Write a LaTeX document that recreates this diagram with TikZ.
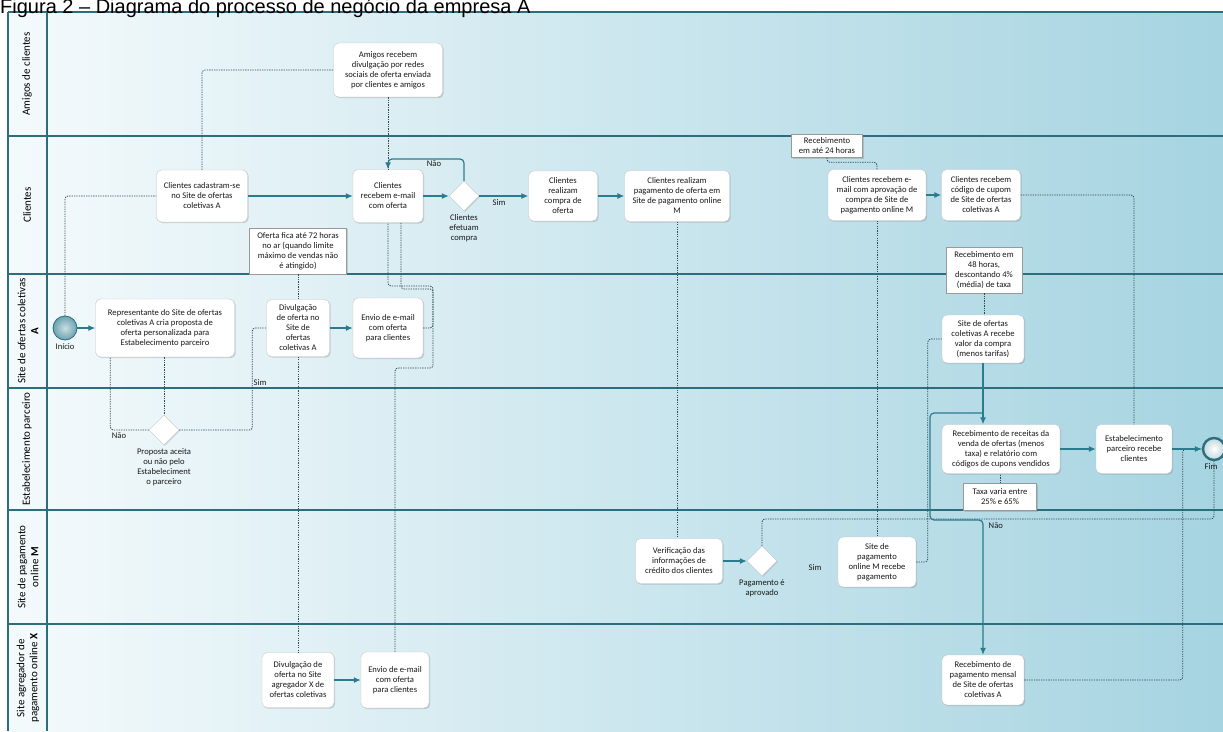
\documentclass[tikz,border=0pt]{standalone}
\usepackage{fontspec}
\setmainfont{Liberation Sans}
\newfontfamily\bpmnfont{Carlito}
\usepackage{tikz}
\usetikzlibrary{calc,positioning,arrows.meta,shapes.geometric,shadows}
\definecolor{lanecol}{HTML}{2C6E7E}
\definecolor{flowcol}{HTML}{2A7B8E}
\definecolor{msgcol}{HTML}{2E4A54}
\definecolor{poolleft}{HTML}{F4FAFC}
\definecolor{poolright}{HTML}{A6D4E1}
\tikzset{
  task/.style={
    draw=black!22, fill=white, rounded corners=5pt,
    align=center, inner sep=1pt, text=black!90,
    font=\bpmnfont\fontsize{8.6}{10}\selectfont,
    drop shadow={shadow xshift=1.2pt, shadow yshift=-1.2pt, opacity=0.25, fill=black!60}
  },
  annot/.style={
    draw=black!40, fill=white,
    align=center, inner sep=1pt, text=black!90,
    font=\bpmnfont\fontsize{8.6}{10}\selectfont,
    drop shadow={shadow xshift=1.2pt, shadow yshift=-1.2pt, opacity=0.25, fill=black!60}
  },
  gateway/.style={
    diamond, draw=black!22, fill=white, minimum size=30pt, inner sep=0pt,
    drop shadow={shadow xshift=1pt, shadow yshift=-1pt, opacity=0.2, fill=black!60}
  },
  startevent/.style={circle, draw=lanecol, line width=0.8pt, minimum size=24pt, inner sep=0pt,
    inner color=white!75!flowcol, outer color=flowcol!70},
  endevent/.style={circle, draw=lanecol, line width=2.4pt, minimum size=22pt, inner sep=0pt,
    inner color=white, outer color=white!70!flowcol},
  lanelabel/.style={rotate=90, align=center, text=black,
    font=\bpmnfont\fontsize{11}{13}\selectfont},
  lbl/.style={align=center, inner sep=0.5pt, text=black!90,
    font=\bpmnfont\fontsize{8.6}{10}\selectfont},
  lane/.style={draw=lanecol, line width=2pt},
  flow/.style={draw=flowcol, line width=1.2pt, -{Latex[length=7pt,width=6pt]}},
  msg/.style={draw=msgcol, line width=0.8pt, dash pattern=on 1.3pt off 1.1pt, rounded corners=3pt}
}

\begin{document}
\begin{tikzpicture}[x=1pt,y=-1pt]
	\useasboundingbox (0,0) rectangle (1223,731);
	% pool and lanes
	\shade[left color=poolleft, right color=poolright] (8,12) rectangle (1223,731);
	\foreach \y in {12,136,274,388,510,624} {
		\draw[lane] (8,\y) -- (1223,\y);
	};
	\draw[lane] (8,12) -- (8,731);
	\draw[lane] (47,12) -- (47,731);
	\node[anchor=base west, inner sep=0pt, font=\fontsize{20}{24}\selectfont] (titulo) at (0,13) {Figura 2 – Diagrama do processo de negócio da empresa A};

	\node[lanelabel] (lAmigos) at (27,74) {Amigos de clientes};
	\node[lanelabel] (lClientes) at (27,205) {Clientes};
	\node[lanelabel] (lSiteA) at (28,331) {Site de ofertas coletivas\\\textbf{A}};
	\node[lanelabel] (lEstab) at (27,449) {Estabelecimento parceiro};
	\node[lanelabel] (lSiteM) at (28,567) {Site de pagamento\\online \textbf{M}};
	\node[lanelabel] (lSiteX) at (28,678) {Site agregador de\\pagamento online \textbf{X}};

	% amigos de clientes
	\node[task, minimum width=109pt, minimum height=54pt] (amigos) at (388,70) {Amigos recebem\\divulgação por redes\\sociais de oferta enviada\\por clientes e amigos};

	% clientes
	\node[task, minimum width=91pt, minimum height=52pt] (cadastro) at (202,196) {Clientes cadastram-se\\no Site de ofertas\\coletivas A};
	\node[task, minimum width=70pt, minimum height=53pt] (recebem) at (388,196) {Clientes\\recebem e-mail\\com oferta};
	\node[gateway] (efetuam) at (464,196) {};
	\node[lbl, below=3pt of efetuam] (efetuamlbl) {Clientes\\efetuam\\compra};
	\node[task, minimum width=69pt, minimum height=50pt] (compra) at (563,196) {Clientes\\realizam\\compra de\\oferta};
	\node[task, minimum width=105pt, minimum height=51pt] (pagamento) at (677,196) {Clientes realizam\\pagamento de oferta em\\Site de pagamento online\\M};
	\node[task, minimum width=98pt, minimum height=51pt] (aprovacao) at (877,195) {Clientes recebem e-\\mail com aprovação de\\compra de Site de\\pagamento online M};
	\node[task, minimum width=79pt, minimum height=51pt] (cupom) at (981,195) {Clientes recebem\\código de cupom\\de Site de ofertas\\coletivas A};
	\node[annot, minimum width=71pt, minimum height=23pt] (nota24) at (827,146) {Recebimento\\em até 24 horas};
	\node[annot, minimum width=97pt, minimum height=46pt] (nota72) at (298,251) {Oferta fica até 72 horas\\no ar (quando limite\\máximo de vendas não\\é atingido)};
	\node[annot, minimum width=76pt, minimum height=46pt] (nota48) at (984,270) {Recebimento em\\48 horas,\\descontando 4\%\\(média) de taxa};

	% site de ofertas coletivas A
	\node[startevent] (inicio) at (65,328) {};
	\node[lbl, below=2pt of inicio] (iniciolbl) {Início};
	\node[task, minimum width=139pt, minimum height=58pt] (representante) at (165,328) {Representante do Site de ofertas\\coletivas A cria proposta de\\oferta personalizada para\\Estabelecimento parceiro};
	\node[task, minimum width=63pt, minimum height=57pt] (divulgA) at (298,328) {Divulgação\\de oferta no\\Site de\\ofertas\\coletivas A};
	\node[task, minimum width=70pt, minimum height=60pt] (envioA) at (388,328) {Envio de e-mail\\com oferta\\para clientes};
	\node[task, minimum width=82pt, minimum height=48pt] (recebeValor) at (983,339) {Site de ofertas\\coletivas A recebe\\valor da compra\\(menos tarifas)};

	% estabelecimento parceiro
	\node[gateway] (proposta) at (164,430) {};
	\node[lbl, below=3pt of proposta] (propostalbl) {Proposta aceita\\ou não pelo\\Estabeleciment\\o parceiro};
	\node[task, minimum width=118pt, minimum height=49pt] (receitas) at (1001,449) {Recebimento de receitas da\\venda de ofertas (menos\\taxa) e relatório com\\códigos de cupons vendidos};
	\node[task, minimum width=76pt, minimum height=49pt] (estabRecebe) at (1134,449) {Estabelecimento\\parceiro recebe\\clientes};
	\node[endevent] (fim) at (1214,449) {};
	\node[lbl, below=2pt of fim, xshift=-3pt] (fimlbl) {Fim};
	\node[annot, minimum width=73pt, minimum height=27pt] (notaTaxa) at (1000,497) {Taxa varia entre\\25\% e 65\%};

	% site de pagamento online M
	\node[task, minimum width=87pt, minimum height=45pt] (verificacao) at (679,561) {Verificação das\\informações de\\crédito dos clientes};
	\node[gateway] (pagto) at (762,561) {};
	\node[lbl, below=3pt of pagto] (pagtolbl) {Pagamento é\\aprovado};
	\node[task, minimum width=78pt, minimum height=50pt] (recebePag) at (877,562) {Site de\\pagamento\\online M recebe\\pagamento};

	% site agregador X
	\node[task, minimum width=72pt, minimum height=55pt] (divulgX) at (298,680) {Divulgação de\\oferta no Site\\agregador X de\\ofertas coletivas};
	\node[task, minimum width=68pt, minimum height=56pt] (envioX) at (395,680) {Envio de e-mail\\com oferta\\para clientes};
	\node[task, minimum width=82pt, minimum height=50pt] (mensal) at (983,680) {Recebimento de\\pagamento mensal\\de Site de ofertas\\coletivas A};

	% dotted links
	\draw[msg] (inicio.north) |- (cadastro.west);
	\draw[msg] (cadastro.north) |- (amigos.west);
	\draw[msg] (amigos.south) -- (recebem.north);
	\draw[msg] (representante.south -| proposta.north) -- (proposta.north);
	\draw[msg] (proposta.west) -| ([xshift=15pt]representante.south west);
	\draw[msg] (proposta.east) -| ([xshift=-14pt]divulgA.west) -- (divulgA.west);
	\draw[msg] (nota72.south) -- (divulgA.north);
	\draw[msg] (divulgA.south) -- (divulgX.north);
	\coordinate (dobraA) at (433,286);
	\draw[msg] (envioA.east) -| (dobraA) -| (recebem.south);
	\coordinate (dobraX) at (433,368);
	\coordinate (dobraX2) at (433,289);
	\draw[msg] (envioX.north) |- (dobraX) -- (dobraX2) -| ([xshift=13pt]recebem.south);
	\draw[msg] (pagamento.south) -- (pagamento.south |- verificacao.north);
	\draw[msg] (nota24.south) |- ([yshift=7pt]aprovacao.north) -- (aprovacao.north);
	\draw[msg] (aprovacao.south) -- (recebePag.north);
	\draw[msg] (cupom.east) -| (estabRecebe.north);
	\draw[msg] (nota48.south) -- (nota48.south |- recebeValor.north);
	\draw[msg] (recebePag.east) -| ([xshift=-14pt]recebeValor.west) -- (recebeValor.west);
	\draw[msg] (notaTaxa.north) -- (notaTaxa.north |- receitas.south);
	\coordinate (naoFim) at (1214,519);
	\draw[msg] (pagto.north) |- (naoFim) -- (fim.south);
	\draw[msg] (mensal.east) -| ([xshift=-19pt]fim.west) -- (fim.west);

	% sequence flows
	\draw[flow] (inicio) -- (representante);
	\draw[flow] (cadastro) -- (recebem);
	\draw[flow] (recebem) -- (efetuam);
	\draw[flow] (efetuam) -- (compra);
	\draw[flow] (compra) -- (pagamento);
	\draw[flow] (aprovacao) -- (cupom);
	\draw[flow] (divulgA) -- (envioA);
	\draw[flow] (recebeValor.south) -- (recebeValor.south |- receitas.north);
	\draw[flow] (receitas) -- (estabRecebe);
	\draw[flow] (estabRecebe) -- (fim);
	\draw[flow] (verificacao) -- (pagto);
	\draw[flow] (divulgX) -- (envioX);
	\coordinate (naoTopo) at (464,159);
	\draw[flow, rounded corners=4pt] (efetuam.north) -- (naoTopo) -| (recebem.north);
	\coordinate (desvioA) at (983,413);
	\coordinate (desvioB) at (930,520);
	\draw[flow, rounded corners=4pt] (desvioA) -| (desvioB) -| (mensal.north);

	% gateway labels
	\node[lbl] (naoA) at (434,164) {Não};
	\node[lbl] (simA) at (499,203) {Sim};
	\node[lbl] (naoB) at (119,436) {Não};
	\node[lbl, anchor=west] (simB) at (253,383) {Sim};
	\node[lbl] (simC) at (815,568) {Sim};
	\node[lbl, anchor=west] (naoC) at (988,526) {Não};
\end{tikzpicture}
\end{document}
